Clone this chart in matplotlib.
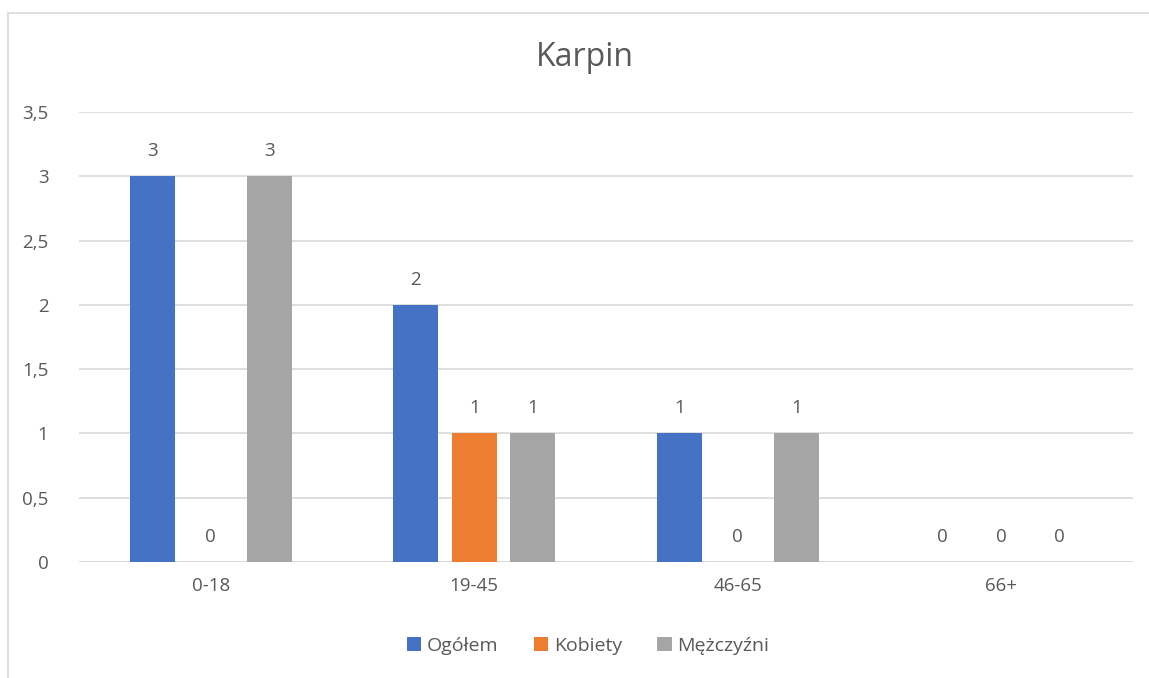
import numpy as np
import matplotlib
matplotlib.use('Agg')
import matplotlib.pyplot as plt
from matplotlib.patches import Rectangle

plt.rcParams['font.family'] = ['Open Sans', 'DejaVu Sans']

categories = ['0-18', '19-45', '46-65', '66+']
ogolem = [3, 2, 1, 0]
kobiety = [0, 1, 0, 0]
mezczyzni = [3, 1, 1, 0]
series = ['Ogółem', 'Kobiety', 'Mężczyźni']
colors = ['#4472C4', '#ED7D31', '#A5A5A5']
txt = '#595959'

fig = plt.figure(figsize=(11.49, 6.78), dpi=100)
ax = fig.add_axes([79/1149, 1 - 562/678, (1133-79)/1149, (562-112)/678])

# chart border (cropped on right/bottom like the source)
fig.patches.append(Rectangle((8/1149, -0.05), 1.1, 1 - 13/678 + 0.05,
                             transform=fig.transFigure, fill=False,
                             edgecolor='#d9d9d9', linewidth=1.2))

x = np.arange(len(categories))
w = 0.171
step = 0.222
for k, (name, vals) in enumerate(zip(series, [ogolem, kobiety, mezczyzni])):
    pos = x + (k - 1) * step
    ax.bar(pos, vals, w, color=colors[k], label=name, zorder=3)
    for p, v in zip(pos, vals):
        ax.annotate(str(v), (p, v), xytext=(0, 18), textcoords='offset points',
                    ha='center', va='center', fontsize=13.5, color=txt)

ax.set_xlim(-0.5, 3.5)
ax.set_ylim(0, 3.5)
ax.set_yticks(np.arange(0, 3.51, 0.5))
ax.set_yticklabels(['0', '0,5', '1', '1,5', '2', '2,5', '3', '3,5'])
ax.set_xticks(x)
ax.set_xticklabels(categories)
ax.tick_params(axis='both', length=0, labelsize=13.5, labelcolor=txt)
ax.tick_params(axis='y', pad=22)
ax.tick_params(axis='x', pad=11)
ax.grid(axis='y', color='#d9d9d9', linewidth=1.2, zorder=0)
for s in ax.spines.values():
    s.set_visible(False)
ax.axhline(0, color='#d9d9d9', linewidth=1.2, zorder=2)

fig.text(585/1149, 1 - 58/678, 'Karpin', ha='center', va='center',
         fontsize=23, color=txt)

fig.legend(loc='center', bbox_to_anchor=(588/1149, 1 - 646/678), ncol=3,
           frameon=False, fontsize=14, labelcolor=txt, handlelength=0.75,
           handleheight=0.75, handletextpad=0.3, columnspacing=1.8)

fig.savefig('out.png', dpi=100)
